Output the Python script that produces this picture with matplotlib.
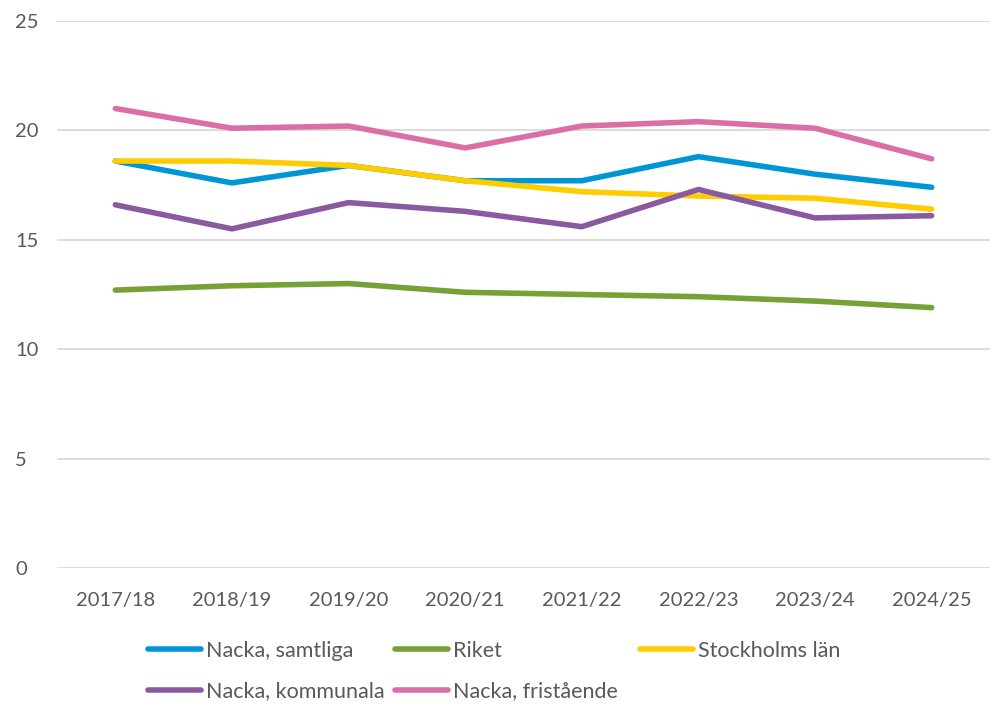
import matplotlib.pyplot as plt

plt.rcParams["font.family"] = ["Lato", "DejaVu Sans"]

seasons = ["2017/18", "2018/19", "2019/20", "2020/21", "2021/22", "2022/23", "2023/24", "2024/25"]
nacka_samtliga = [18.6, 17.6, 18.4, 17.7, 17.7, 18.8, 18.0, 17.4]
riket = [12.7, 12.9, 13.0, 12.6, 12.5, 12.4, 12.2, 11.9]
stockholms_lan = [18.6, 18.6, 18.4, 17.7, 17.2, 17.0, 16.9, 16.4]
nacka_kommunala = [16.6, 15.5, 16.7, 16.3, 15.6, 17.3, 16.0, 16.1]
nacka_fristaende = [21.0, 20.1, 20.2, 19.2, 20.2, 20.4, 20.1, 18.7]

series = [
    ("Nacka, samtliga", nacka_samtliga, "#0096d6"),
    ("Riket", riket, "#77a136"),
    ("Stockholms län", stockholms_lan, "#ffcc00"),
    ("Nacka, kommunala", nacka_kommunala, "#8a5aa0"),
    ("Nacka, fristående", nacka_fristaende, "#db6ea7"),
]

TEXT = "#595959"
W, H = 992, 706

fig = plt.figure(figsize=(W / 100, H / 100), dpi=100)
ax = fig.add_axes([57 / W, 1 - 568 / H, (990 - 57) / W, (568 - 21) / H])

x = list(range(len(seasons)))
lines = {}
for name, vals, color in series:
    (ln,) = ax.plot(x, vals, color=color, lw=4, solid_capstyle="round",
                    solid_joinstyle="round", label=name)
    lines[name] = ln

ax.set_xlim(-0.5, len(seasons) - 0.5)
ax.set_ylim(0, 25)
ax.set_yticks([0, 5, 10, 15, 20, 25])
ax.set_xticks(x)
ax.set_xticklabels(seasons)
ax.yaxis.grid(True, color="#d9d9d9", lw=1.3)
ax.set_axisbelow(True)
for s in ax.spines.values():
    s.set_visible(False)
ax.tick_params(axis="both", length=0, labelsize=14.5, colors=TEXT)
ax.tick_params(axis="x", pad=17)
ax.tick_params(axis="y", pad=30)
for lbl in ax.get_yticklabels():
    lbl.set_horizontalalignment("left")

# legend laid out in three fixed columns, two rows
columns = [
    (148, ["Nacka, samtliga", "Nacka, kommunala"]),
    (395, ["Riket", "Nacka, fristående"]),
    (640, ["Stockholms län"]),
]
for xpix, names in columns:
    leg = fig.legend([lines[n] for n in names], names, loc="upper left",
                     bbox_to_anchor=(xpix / W, 1 - 641 / H), frameon=False,
                     fontsize=15.5, handlelength=2.45, handletextpad=0.25,
                     labelspacing=0.95, borderpad=0, borderaxespad=0)
    for t in leg.get_texts():
        t.set_color(TEXT)

fig.savefig("out.png", dpi=100)
